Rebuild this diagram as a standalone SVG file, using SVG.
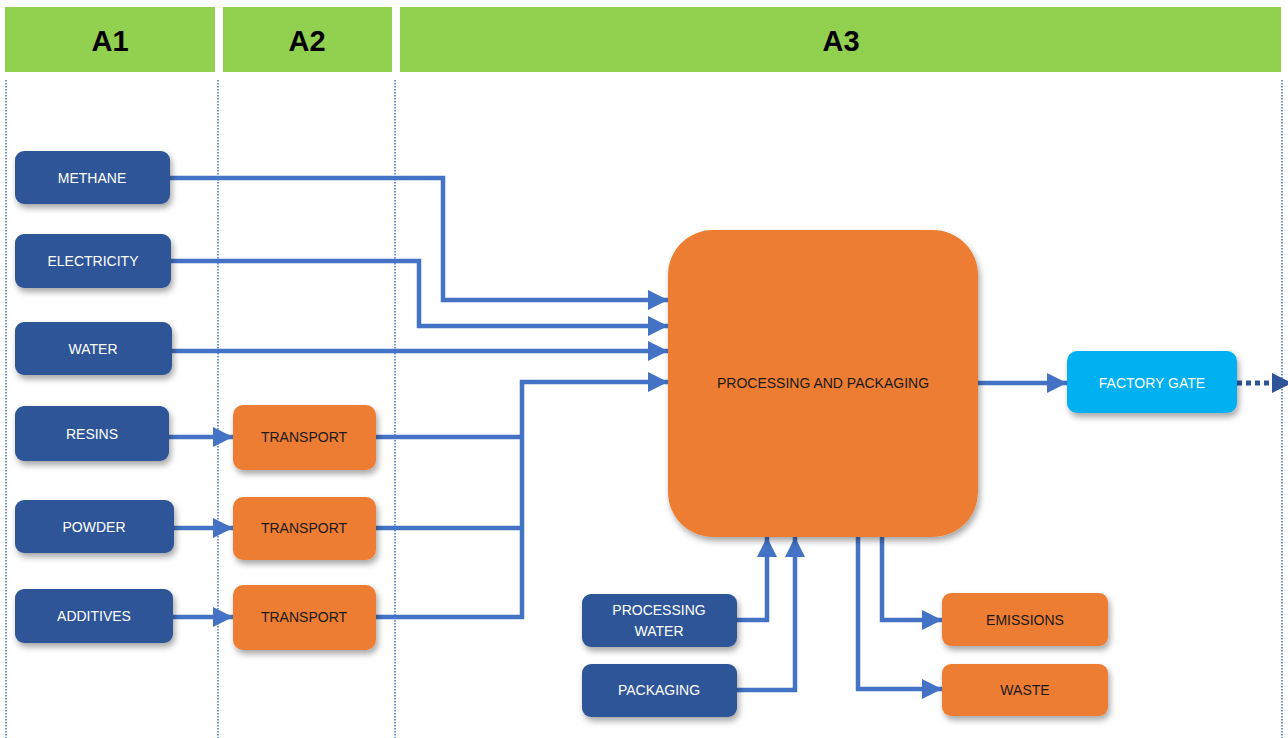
<svg xmlns="http://www.w3.org/2000/svg" width="1288" height="738" viewBox="0 0 1288 738">
<style>
.hdr{fill:#92D050}
.htxt{font-family:"Liberation Sans",Arial,sans-serif;font-weight:bold;font-size:29px;fill:#000;text-anchor:middle}
.guide{stroke:#4472C4;stroke-width:1.5;stroke-dasharray:1.5 1.5;fill:none}
.blue{fill:#2F5597;filter:url(#sh)}
.orange{fill:#ED7D31;filter:url(#sh)}
.cyan{fill:#00B0F0;filter:url(#sh)}
.wt{font-family:"Liberation Sans",Arial,sans-serif;font-size:14px;fill:#fff;text-anchor:middle}
.dt{font-family:"Liberation Sans",Arial,sans-serif;font-size:14px;fill:#1a1a1a;text-anchor:middle}
.con{stroke:#4472C4;stroke-width:4.5;fill:none;marker-end:url(#ah)}
.lin{stroke:#4472C4;stroke-width:4.5;fill:none}
</style>
<defs>
<filter id="sh" x="-20%" y="-20%" width="140%" height="150%">
<feDropShadow dx="2" dy="4" stdDeviation="3" flood-color="#000" flood-opacity="0.35"/>
</filter>
<marker id="ah" markerUnits="userSpaceOnUse" markerWidth="20" markerHeight="20" viewBox="0 0 20 20" refX="20" refY="10" orient="auto">
<path d="M0,0 L20,10 L0,20 Z" fill="#4472C4"/>
</marker>
<marker id="ahd" markerUnits="userSpaceOnUse" markerWidth="20" markerHeight="20" viewBox="0 0 20 20" refX="20" refY="10" orient="auto">
<path d="M0,0 L20,10 L0,20 Z" fill="#2F5597"/>
</marker>
</defs>
<rect width="1288" height="738" fill="#fff"/>
<g id="headers">
<rect class="hdr" x="5" y="7" width="210" height="65"/>
<rect class="hdr" x="223" y="7" width="169" height="65"/>
<rect class="hdr" x="400" y="7" width="881" height="65"/>
<text class="htxt" x="110" y="51">A1</text>
<text class="htxt" x="307" y="51">A2</text>
<text class="htxt" x="841" y="51">A3</text>
</g>
<g id="guides">
<line class="guide" x1="6" y1="80" x2="6" y2="738"/>
<line class="guide" x1="218" y1="80" x2="218" y2="738"/>
<line class="guide" x1="395" y1="80" x2="395" y2="738"/>
<line class="guide" x1="1282" y1="80" x2="1282" y2="738"/>
</g>
<g id="connectors">
<polyline class="con" points="170,178 443,178 443,300 668,300"/>
<polyline class="con" points="171,261 419,261 419,326 668,326"/>
<polyline class="con" points="172,351 668,351"/>
<polyline class="con" points="169,437 233,437"/>
<polyline class="con" points="174,528 233,528"/>
<polyline class="con" points="173,617 233,617"/>
<polyline class="lin" points="376,437 522,437"/>
<polyline class="lin" points="376,528 522,528"/>
<polyline class="con" points="376,617 522,617 522,382 668,382"/>
<polyline class="con" points="978,383 1067,383"/>
<line x1="1237" y1="383" x2="1292" y2="383" stroke="#2F5597" stroke-width="5" stroke-dasharray="5 4" marker-end="url(#ahd)"/>
<polyline class="con" points="737,620 767,620 767,537"/>
<polyline class="con" points="737,690 795,690 795,537"/>
<polyline class="con" points="882,537 882,620 942,620"/>
<polyline class="con" points="858,537 858,689 942,689"/>
</g>
<g id="methane"><rect class="blue" x="15" y="151" width="155" height="53" rx="9"/><text class="wt" x="92" y="183">METHANE</text></g>
<g id="electricity"><rect class="blue" x="15" y="234" width="156" height="54" rx="9"/><text class="wt" x="93" y="266">ELECTRICITY</text></g>
<g id="water"><rect class="blue" x="15" y="322" width="157" height="53" rx="9"/><text class="wt" x="93" y="354">WATER</text></g>
<g id="resins"><rect class="blue" x="15" y="406" width="154" height="55" rx="9"/><text class="wt" x="92" y="439">RESINS</text></g>
<g id="powder"><rect class="blue" x="15" y="500" width="159" height="53" rx="9"/><text class="wt" x="94" y="532">POWDER</text></g>
<g id="additives"><rect class="blue" x="15" y="589" width="158" height="54" rx="9"/><text class="wt" x="94" y="621">ADDITIVES</text></g>
<g id="transport1"><rect class="orange" x="233" y="405" width="143" height="65" rx="10"/><text class="dt" x="304" y="442">TRANSPORT</text></g>
<g id="transport2"><rect class="orange" x="233" y="497" width="143" height="63" rx="10"/><text class="dt" x="304" y="533">TRANSPORT</text></g>
<g id="transport3"><rect class="orange" x="233" y="585" width="143" height="65" rx="10"/><text class="dt" x="304" y="622">TRANSPORT</text></g>
<g id="processing"><rect class="orange" x="668" y="230" width="310" height="307" rx="45"/><text class="dt" x="823" y="388">PROCESSING AND PACKAGING</text></g>
<g id="factory-gate"><rect class="cyan" x="1067" y="351" width="170" height="62" rx="10"/><text class="wt" x="1152" y="388">FACTORY GATE</text></g>
<g id="processing-water"><rect class="blue" x="582" y="594" width="155" height="53" rx="9"/><text class="wt" x="659" y="615">PROCESSING</text><text class="wt" x="659" y="636">WATER</text></g>
<g id="packaging"><rect class="blue" x="582" y="664" width="155" height="53" rx="9"/><text class="wt" x="659" y="695">PACKAGING</text></g>
<g id="emissions"><rect class="orange" x="942" y="593" width="166" height="53" rx="9"/><text class="dt" x="1025" y="625">EMISSIONS</text></g>
<g id="waste"><rect class="orange" x="942" y="664" width="166" height="52" rx="9"/><text class="dt" x="1025" y="695">WASTE</text></g>
</svg>
